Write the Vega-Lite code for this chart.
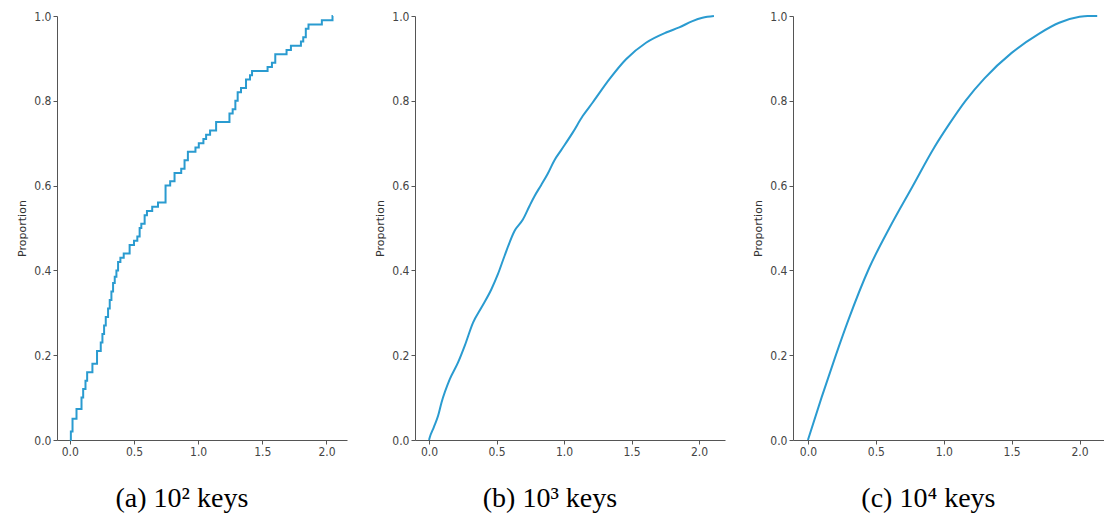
{
  "$schema": "https://vega.github.io/schema/vega-lite/v6.json",
  "background": "white",
  "padding": {"left": 16, "top": 10, "right": 0, "bottom": 0},
  "spacing": 27,
  "config": {
    "view": {"stroke": null},
    "axis": {
      "grid": false,
      "domainColor": "#555555",
      "tickColor": "#555555",
      "tickSize": 4,
      "labelColor": "#444444",
      "labelFont": "DejaVu Sans Condensed, Liberation Sans Narrow, sans-serif",
      "labelFontSize": 12,
      "labelPadding": 2,
      "titleFont": "DejaVu Sans, sans-serif",
      "titleFontSize": 11,
      "titleFontWeight": "normal",
      "titleColor": "#333333"
    },
    "title": {
      "font": "Liberation Serif",
      "fontSize": 28,
      "fontWeight": "normal",
      "color": "#000000",
      "orient": "bottom",
      "frame": "bounds",
      "anchor": "middle",
      "offset": 28
    },
    "line": {"color": "#2a9bd0", "strokeWidth": 2}
  },
  "hconcat": [
    {
      "width": 290,
      "height": 424,
      "title": "(a) 10² keys",
      "data": {"values": [
        {"x": 0.0, "p": 0.0}, {"x": 0.008, "p": 0.02}, {"x": 0.021, "p": 0.05}, {"x": 0.052, "p": 0.073},
        {"x": 0.091, "p": 0.10}, {"x": 0.104, "p": 0.12}, {"x": 0.122, "p": 0.14}, {"x": 0.135, "p": 0.16},
        {"x": 0.176, "p": 0.18}, {"x": 0.212, "p": 0.21}, {"x": 0.241, "p": 0.23}, {"x": 0.254, "p": 0.25},
        {"x": 0.267, "p": 0.27}, {"x": 0.280, "p": 0.29}, {"x": 0.298, "p": 0.31}, {"x": 0.311, "p": 0.33},
        {"x": 0.324, "p": 0.35}, {"x": 0.337, "p": 0.37}, {"x": 0.350, "p": 0.385}, {"x": 0.363, "p": 0.40},
        {"x": 0.376, "p": 0.42}, {"x": 0.394, "p": 0.43}, {"x": 0.420, "p": 0.44}, {"x": 0.466, "p": 0.46},
        {"x": 0.500, "p": 0.47}, {"x": 0.526, "p": 0.48}, {"x": 0.544, "p": 0.50}, {"x": 0.557, "p": 0.51},
        {"x": 0.583, "p": 0.53}, {"x": 0.601, "p": 0.54}, {"x": 0.642, "p": 0.55}, {"x": 0.687, "p": 0.56},
        {"x": 0.746, "p": 0.60}, {"x": 0.782, "p": 0.61}, {"x": 0.816, "p": 0.63}, {"x": 0.868, "p": 0.64},
        {"x": 0.894, "p": 0.66}, {"x": 0.920, "p": 0.68}, {"x": 0.979, "p": 0.69}, {"x": 1.005, "p": 0.70},
        {"x": 1.041, "p": 0.71}, {"x": 1.062, "p": 0.72}, {"x": 1.093, "p": 0.73}, {"x": 1.140, "p": 0.75},
        {"x": 1.244, "p": 0.77}, {"x": 1.269, "p": 0.78}, {"x": 1.290, "p": 0.80}, {"x": 1.308, "p": 0.82},
        {"x": 1.334, "p": 0.83}, {"x": 1.373, "p": 0.85}, {"x": 1.404, "p": 0.86}, {"x": 1.420, "p": 0.87},
        {"x": 1.541, "p": 0.88}, {"x": 1.575, "p": 0.89}, {"x": 1.601, "p": 0.91}, {"x": 1.689, "p": 0.92},
        {"x": 1.723, "p": 0.93}, {"x": 1.801, "p": 0.94}, {"x": 1.819, "p": 0.95}, {"x": 1.839, "p": 0.97},
        {"x": 1.860, "p": 0.98}, {"x": 1.964, "p": 0.99}, {"x": 2.047, "p": 1.0}, {"x": 2.05, "p": 1.0}
      ]},
      "mark": {"type": "line", "interpolate": "step-after"},
      "encoding": {
        "x": {"field": "x", "type": "quantitative", "scale": {"domain": [-0.1, 2.16], "nice": false, "zero": false},
              "axis": {"values": [0, 0.5, 1, 1.5, 2], "format": ".1f", "title": null}},
        "y": {"field": "p", "type": "quantitative", "scale": {"domain": [0, 1], "nice": false},
              "axis": {"values": [0, 0.2, 0.4, 0.6, 0.8, 1.0], "format": ".1f", "title": "Proportion", "titlePadding": 6}}
      }
    },
    {
      "width": 310,
      "height": 424,
      "title": "(b) 10³ keys",
      "data": {"values": [
        {"x": 0.0, "p": 0.0}, {"x": 0.005, "p": 0.006}, {"x": 0.035, "p": 0.03}, {"x": 0.067, "p": 0.057},
        {"x": 0.092, "p": 0.088}, {"x": 0.153, "p": 0.143}, {"x": 0.215, "p": 0.183}, {"x": 0.264, "p": 0.222},
        {"x": 0.326, "p": 0.277}, {"x": 0.387, "p": 0.312}, {"x": 0.461, "p": 0.355}, {"x": 0.51, "p": 0.391},
        {"x": 0.559, "p": 0.434}, {"x": 0.633, "p": 0.493}, {"x": 0.695, "p": 0.52}, {"x": 0.744, "p": 0.552},
        {"x": 0.781, "p": 0.575}, {"x": 0.83, "p": 0.601}, {"x": 0.879, "p": 0.628}, {"x": 0.929, "p": 0.66},
        {"x": 0.975, "p": 0.682}, {"x": 1.064, "p": 0.725}, {"x": 1.138, "p": 0.764}, {"x": 1.212, "p": 0.796},
        {"x": 1.336, "p": 0.851}, {"x": 1.459, "p": 0.898}, {"x": 1.607, "p": 0.937}, {"x": 1.755, "p": 0.961},
        {"x": 1.853, "p": 0.973}, {"x": 1.951, "p": 0.988}, {"x": 2.025, "p": 0.996}, {"x": 2.11, "p": 1.0}
      ]},
      "mark": {"type": "line", "interpolate": "monotone"},
      "encoding": {
        "x": {"field": "x", "type": "quantitative", "scale": {"domain": [-0.104, 2.192], "nice": false, "zero": false},
              "axis": {"values": [0, 0.5, 1, 1.5, 2], "format": ".1f", "title": null}},
        "y": {"field": "p", "type": "quantitative", "scale": {"domain": [0, 1], "nice": false},
              "axis": {"values": [0, 0.2, 0.4, 0.6, 0.8, 1.0], "format": ".1f", "title": "Proportion", "titlePadding": 6}}
      }
    },
    {
      "width": 311,
      "height": 424,
      "title": "(c) 10⁴ keys",
      "data": {"values": [
        {"x": 0.0, "p": 0.0}, {"x": 0.1, "p": 0.1}, {"x": 0.2, "p": 0.195}, {"x": 0.3, "p": 0.285},
        {"x": 0.45, "p": 0.405}, {"x": 0.6, "p": 0.5}, {"x": 0.77, "p": 0.598}, {"x": 0.93, "p": 0.69},
        {"x": 1.04, "p": 0.745}, {"x": 1.16, "p": 0.8}, {"x": 1.3, "p": 0.853}, {"x": 1.5, "p": 0.913},
        {"x": 1.7, "p": 0.958}, {"x": 1.85, "p": 0.984}, {"x": 2.0, "p": 0.998}, {"x": 2.06, "p": 1.0},
        {"x": 2.13, "p": 1.0}
      ]},
      "mark": {"type": "line", "interpolate": "monotone"},
      "encoding": {
        "x": {"field": "x", "type": "quantitative", "scale": {"domain": [-0.11, 2.18], "nice": false, "zero": false},
              "axis": {"values": [0, 0.5, 1, 1.5, 2], "format": ".1f", "title": null}},
        "y": {"field": "p", "type": "quantitative", "scale": {"domain": [0, 1], "nice": false},
              "axis": {"values": [0, 0.2, 0.4, 0.6, 0.8, 1.0], "format": ".1f", "title": "Proportion", "titlePadding": 6}}
      }
    }
  ]
}
